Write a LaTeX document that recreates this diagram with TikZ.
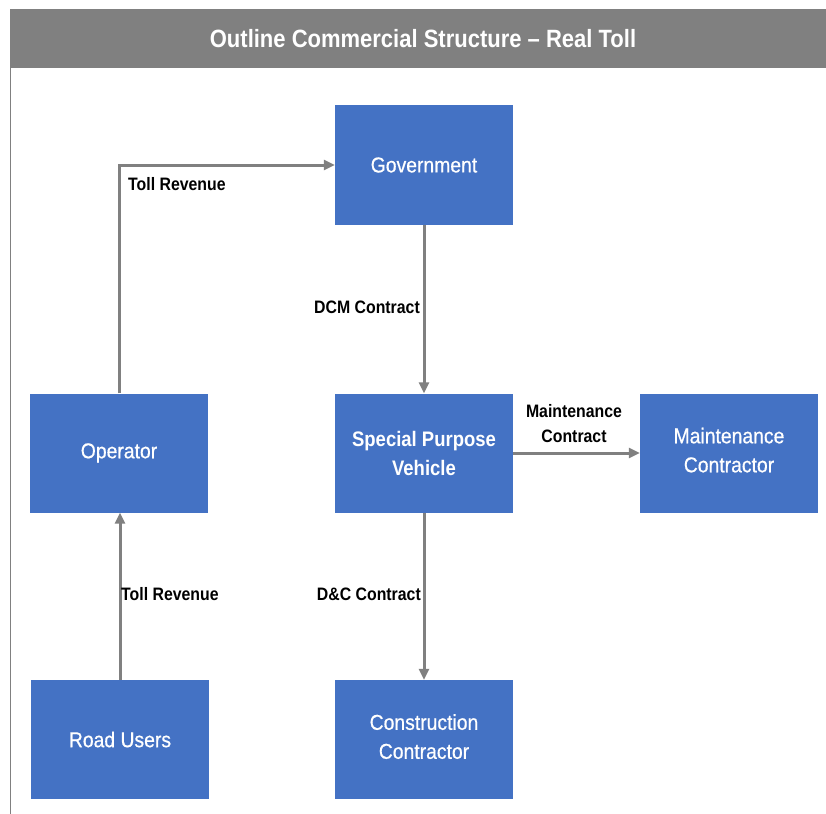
\documentclass[tikz,border=0pt]{standalone}
\usepackage{fontspec}
\setmainfont{Liberation Sans}[FakeStretch=0.88]
\newfontfamily\boxfont{Liberation Sans}[FakeStretch=0.9, FakeBold=0.6]
\usetikzlibrary{arrows.meta}
\definecolor{boxblue}{HTML}{4472C4}
\definecolor{linegray}{HTML}{808080}
\begin{document}
\begin{tikzpicture}[x=1bp,y=-1bp,
  stagebox/.style={rectangle, fill=boxblue, text=white, minimum width=178bp,
    minimum height=119bp, inner sep=0pt, align=center,
    font=\fontsize{21.5bp}{29bp}\boxfont},
  flow/.style={draw=linegray, line width=3bp,
    -{Triangle[length=11bp,width=10bp]}},
  flowlabel/.style={inner sep=0pt, align=center,
    font=\fontsize{18bp}{25bp}\selectfont\bfseries}]
  \useasboundingbox (0,0) rectangle (826,814);
  \fill[white] (0,0) rectangle (826,814);
  % title bar and frame
  \fill[linegray] (10,9) rectangle (826,68);
  \node[text=white, font=\fontsize{25bp}{30bp}\selectfont\bfseries] (title) at (423,39)
    {Outline Commercial Structure – Real Toll};
  \draw[linegray, line width=1.5bp] (10.5,68) -- (10.5,814);
  % parties (some two-line texts sit a little above the box centre)
  \node[stagebox] (gov) at (424,165) {Government};
  \node[stagebox] (op)  at (119,453) {Operator};
  \node[stagebox, font=\fontsize{21bp}{29bp}\selectfont\bfseries] (spv) at (424,453) {Special Purpose\\Vehicle};
  \node[stagebox] (mc)  at (729,453) {Maintenance\\Contractor\\[-23bp]};
  \node[stagebox] (ru)  at (120,739.5) {Road Users};
  \node[stagebox] (cc)  at (424,739.5) {Construction\\Contractor\\[-23bp]};
  % contractual and revenue flows
  \draw[flow] (op.north) |- (gov.west);
  \draw[flow] (gov.south) -- (spv.north);
  \draw[flow] (spv.east) -- (mc.west);
  \draw[flow] (spv.south) -- (cc.north);
  \draw[flow] (ru.north) -- (ru.north |- op.south);
  % flow labels
  \node[flowlabel, anchor=west] (l1) at (128,184) {Toll Revenue};
  \node[flowlabel, anchor=east] (l2) at (420,307) {DCM Contract};
  \node[flowlabel] (l3) at (574,423.5) {Maintenance\\Contract};
  \node[flowlabel, anchor=east] (l4) at (421,594) {D\&C Contract};
  \node[flowlabel, anchor=west] (l5) at (121,594) {Toll Revenue};
\end{tikzpicture}
\end{document}
